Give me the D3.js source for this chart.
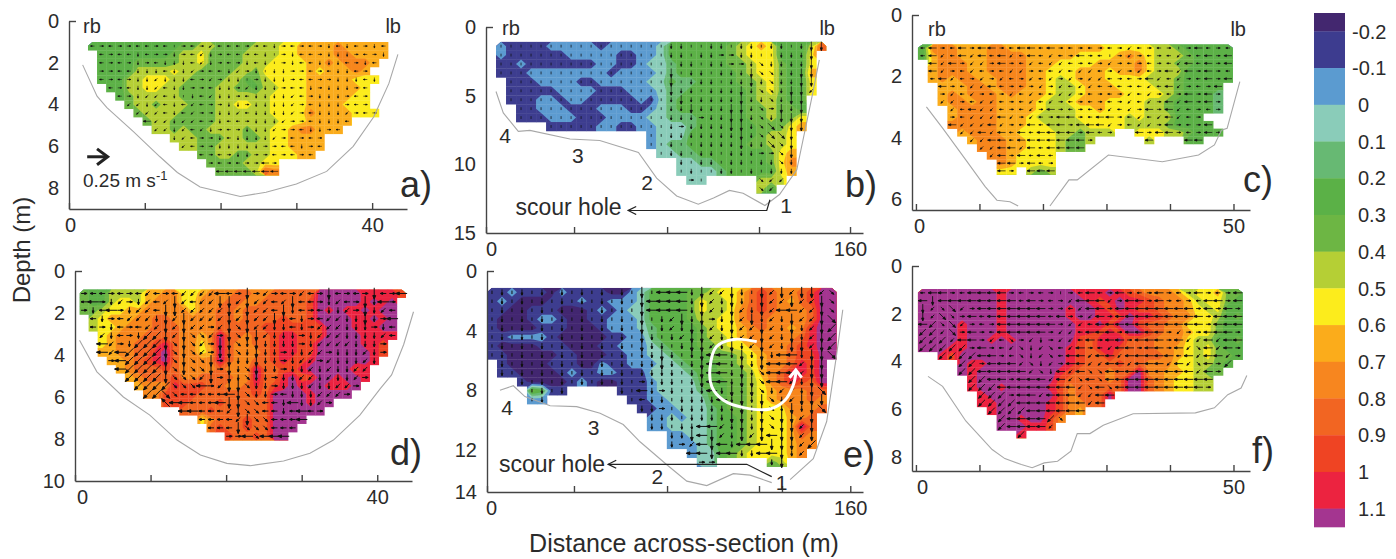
<!DOCTYPE html>
<html>
<head>
<meta charset="utf-8">
<script src="https://d3js.org/d3.v7.min.js"></script>
<style>
html, body { margin: 0; padding: 0; background: #fff; overflow: hidden; }
text { font-family: "Liberation Sans", Arial, sans-serif; fill: #2b2b2b; }
</style>
</head>
<body>
<svg id="chart" width="1396" height="559"></svg>
<script>
// legend classes, one character per class in the velocity rows below
var classKeys = "0123456789abcde";
var classColors = ["#43276f", "#3d3c8f", "#5b9bd0", "#8accb9", "#67b973", "#5bb147", "#6db644", "#b5cf35",
    "#fcec1c", "#fbac1b", "#f7861f", "#f26522", "#ef4423", "#ec2340", "#a43590"];
var legendValues = [-0.2, -0.1, 0, 0.1, 0.2, 0.3, 0.4, 0.5, 0.6, 0.7, 0.8, 0.9, 1, 1.1];
var legendLabels = ["-0.2", "-0.1", "0", "0.1", "0.2", "0.3", "0.4", "0.5", "0.6", "0.7", "0.8", "0.9", "1", "1.1"];

// velocity class per cell, "." is outside the measured area
var aVel = [
    "555555555566776666777889999a99999.",
    ".55555555677866667777889999aa9999.",
    ".5555666667786666777888899a9aaa9..",
    ".5555777787766667768888898999a9...",
    ".5557788877666677567888899999888..",
    "..55778877666677665778889999998...",
    "...5677777666677777788889999988...",
    "....677677766677887788889999888...",
    ".....6777766667777778888a9999888..",
    "......67766666777777788899999.....",
    ".......7767667777677889aa999......",
    ".........77766677667889999........",
    "..........7766777777889999........",
    "............6677667788899.........",
    ".............66667788.............",
    "..............66667ba............."
];
var bVel = [
    "21111222221222223555555678985557b",
    "21111112222211223555555678885558.",
    "11211111112211233455555667886558.",
    "11122222222122223455555567886559.",
    ".1112222112222233544555566786558.",
    ".1111122221112223445555556786558.",
    ".111221221111121345555555677655..",
    "..11222111222112345555555667665..",
    "..11122211122223344455555667668..",
    ".....11111221122333455555566689..",
    "...............233355555556778...",
    "...............234455555566778...",
    "................33445555555689...",
    "..................33445555568a...",
    "..................333345555589...",
    "...................33.....777....",
    "..........................75....."
];
var cVel = [
    "5aaa999aa99999999998888877655555",
    "59aa999aaaa9999988889a9877765555",
    ".9aaa99aaaa99988889999a877665555",
    ".9aaa99aaaa99888999899a877755555",
    ".9a9aa99aaa998789998888777655555",
    "..999aa9aaa99877899988887765555.",
    "..9a9aaa9a999877899998888765554.",
    "..9aa9aa99998778999888877655554.",
    "...9aaaa99998777889888877655554.",
    "...9aaaa999877778888878777555...",
    "...aaaaa9998877778888777765555..",
    "....9aaa998888776777..888776555.",
    ".....9aaa998887667.....7...55...",
    "......aaa99888766...............",
    ".......aa98888..................",
    "........a98888..................",
    "........88.767.................."
];
var dVel = [
    "655777799aa889aaabbaabbbbbeeeeeddddc",
    "65578879aaa88aaabbaabbbbbceeeeedede.",
    "6678899aaaaa8aabbabbbbbbbcededdedee.",
    ".78999aabbaaaaabbabbbbcbbceeeeddede.",
    ".7889aaabbbaaaabbbbbccccccceeedddee.",
    "..89aaabbbbaa9aebbabbcddccceeeedddd.",
    "..89aabbcdbaa8aebaabbcddcceeeeeddc..",
    "..99aabbdebaa89ebaaabcddcceeeeeedc..",
    "...99abcdebaaaaebaabbcdccdeeeeeed...",
    "....9abbbcbaaaabaaaebbccdeeeeecd....",
    ".....9abbbcaabbbbaaebbdecceedeed....",
    "......9aaadcccbbaabdbcdedeeddde.....",
    ".......aaccccbbbbbbcbeeeedeeee......",
    ".........cccbbbcbbbbbeeeedee........",
    "...........bbbcbbbbbbeeeeee.........",
    ".............8abbbcbbeeee...........",
    "..............bcbbcbbeee............",
    "................cbbcbee............."
];
var eVel = [
    "11211102111100235555667889bcbaabcee",
    "12100011121122235555687789bcba9bcee",
    "1100111000121233555568778abcbaaabee",
    "1000122100112223555567788abbaaaabee",
    "10000111000122234555567889abaa9adee",
    "11222210000011224555567789aaaaabdee",
    "100001110001122234555667889aaabcdee",
    "110000011000112233455566 6789aabccee".replace(" ", "").slice(0, 15) + "2334555666789aabccee",
    ".10000111002112" + "2233455566789aabdce.",
    ".11000012112211" + "1333345566679abddce.",
    "...100001210011" + "1233335556678abdcbe.",
    "....6511.....11" + "12333345566789aaabb.",
    "....22........1" + "12233335566789aaaba.",
    "..............." + "112233345667888aaab.",
    "..............." + ".223233455678889ab..",
    "..............." + ".223333455678889eb..",
    "..............." + "...2233455678889ba..",
    "..............." + "...2223455678889aa..",
    "..............." + ".....23356788889a...",
    ".....................33.....67....."
];
var fVel = [
    "eeeeeeeedeeeeeeedddedcbaaa9788966",
    "eeeeeeeedeeeeeeeedcdeddcbaa978865",
    "eeeeeeeedeeeeeedeedcedccbaa987855",
    "eeeeeeeedeeeeeedeeddceddcbaa88756",
    "eeeedeeedeeeeeeeddeceecbbaa888655",
    "eeeedeeedeeeeeeeddcdceecbaa988655",
    "eeeedeededeeeeeecbddebbbaaa877556",
    "eeeddeeeeeeeeeedcbddcbbbaa9878655",
    "..dceeeeeeeeeeedcbbdbbbbba9878665",
    "....eddeeeeeeeedcbbbcbbaaa887765.",
    "....edeeeeeeeedcbbbabbeaa998766..",
    ".....deeeeeeeecbbbbabeeba98877...",
    ".....deedeeeedcabbbbbeeba98877...",
    "......deeeeeeecabbbe.............",
    "......ddeeeeedcaabb..............",
    ".......deeeeedca9................",
    "........eedeeca..................",
    "........eeeddc...................",
    "..........d......................"
];

// velocity vector per cell: r e u w l z d s compass, upper case is a long one, i is a tiny one
var aArrows = [
    "lrlrrllrlirlrzlllrrldrlrlrdldlrdlr",
    "rlrlldlrrdrlzdrllrldirdllrdddrlrdl",
    "rlrlrdrldddlzdrlrdldirdlldddlrdllr",
    "lrrlldddlddzrlldzrdiddrrlrlddlrlLl",
    "rlrlrddzdddlrzrddirdddrllrrdddldLr",
    "lrlrlddzlddrrlddrzdddrlldrdddrlrll",
    "lrrlrdzzldidlzddrlddddzlrdddrlrlrr",
    "rlrrzzdzldlzlrrddrddddzrldddrlrlrl",
    "rlrlzzzzldlzrrddzlddddzrldddzrlrrl",
    "lrlrLzLzzdzzlrdllrdddzrrldddlrlrrr",
    "rlrlzLzzzdzlzdrlrdddzrrlddrlrlrlrl",
    "rlrlzzLzzdzlrrdlddddzrlrlrlrlrlrlr",
    "lrlrlzzlzdzlrrdddddrrlldrlrlrlrlrl",
    "lrlrlrlzzdzzlrlrddrrlrlrlrlrlrlrlr",
    "lrlrlrlrlrlrlrlrlrrLrlrlrlrlrlrlrl",
    "lrlrlrlrlrlrlLLLLLLLLrLlrlrlrlrlrl"
];
var bArrows = [
    "iiiiiiiiiiiiiiiiiddiiddiddiddidDD",
    "iiiiiiiiiiiiiiiiiddiddrrddiidddDs",
    "iiiiiiiiiiiiiiiiiiddiddrrdsddddDs",
    "iiiiiiiiiiiiiiiiiDiddidddDssddDDs",
    "iiiiiiiiiiiiiiiiiDidddiddDdsddDDs",
    "iiiiiiiiiiiiiiiiiDddidddDdssdDDzs",
    "iiiiiiiiiiiiiiiiidDdddddDddsdDDz.",
    "iiiiiiiiiiiiiiiiiddDdddDDdsrDdDz.",
    "iiiiiiiiiiiiiiiiidddrddDDdsdDDDz.",
    "iiiiiiiiiiiiiiiiidrddddDDdsSsDD..",
    "iiiiiiiiiiiiiiiiidddddddDdsSSDD..",
    "iiiiiiiiiiiiiiiiidiiddddDddSsDD..",
    "iiiiiiiiiiiiiiiiiddiddidddrrsDD..",
    "iiiiiiiiiiiiiiiiiididdiddiddsdD..",
    "iiiiiiiiiiiiiiiiiiidiiddididddr..",
    "iiiiiiiiiiiiiiiiiiiriiiiiiszzzz..",
    "iiiiiiiiiiiiiiiiiiiiiiiiiiszzz..."
];
var cArrows = [
    "lLrlLrLLrlLLlLrlrlrlrzlrlrirLlrl",
    "lLzlLzLlLzlLlzlrLrlirzrlrlzrlLrL",
    "rLzLrzzrLrlzlzzlrlrzrlrlrlzLlLrL",
    "lLzrlzlrlzzrllzlzzlrzrzlrLzLrLrl",
    "rlLzlrzrzlrzlzrzrzzlrlrLzlzrlLrL",
    "rlLrlzzLlrlrzrzlzzlrlrlzlLzrlrLr",
    "lLrzlzrlrzlzllzzrlrlrzlzrlrLrLrl",
    "lLzzrlzzlrlzlzrlrlrlrzlzrLzLrLrl",
    "lLLzlLzzlrlzrLrlrlrzlzrLrLzlrlrl",
    "LLLrlzzzLzrzlrLLrlLLrlzlzLzlrLrl",
    "LLLLzzzLzrlLlLLrLLLzrlzzrLrlrLrl",
    "LLlLzzLzLlLlLLLLrLlrLLLrLLrlrLrl",
    "rLLLLzzLLlLLLLLLLrlrlrlLLLLLLlrl",
    "rlLLLLzzLLzLlLLLLlrlrlrlrlrlrlrl",
    "rlrLLLzzLrLlLlrlrlrlrlrlrlrlrlrl",
    "rlrlrLzLLLrLlrLrlrlrlrlrlrlrlrlr",
    "rlrlrlrrLrLLLLLLrlrlrlrlrlrlrlrl"
];
var dArrows = [
    "rllrlrlzlrlzzzzLlrDrzrlrzlrDlrlrDlrL",
    "lLrdzrdzlzDzlzzDDzDzzlzDllrdzlrDdLrL",
    "rdlLrdzzlDDzzzzzDzDzzlDdlrlddzrDdzlr",
    "LldrlzzzdDzDzzzzDzDzzDdldrlzzddDdrLr",
    "LlrdlrlzzDzDzzrzDsDzzddldrzzzdddrdlL",
    "lLzdlrdZZDzDsszrDsDDzdddrdzzzddddzlr",
    "lrLzrdZZZDsDszrDDsdDddddrdzzzzdddrzL",
    "LrLzLZZZZDsDszrDDsdDddrddzzrdddzdrzL",
    "rLrrLZZZZDsDssDrDddDddrdzzrzdddzdzLr",
    "rrLlLZZZZDsDssDrDdsDddrddzdzddzzzLrr",
    "lrlrLZZZZDssszDrDdsddrddzzdzddzrLrlr",
    "lrlrlZZZZZsssLrzDDsddrdddzddzzrLrlrL",
    "lrlrlrZZZSslllllLDsddrldddzzzrLrrlrl",
    "rlrlrlrLWWLLlllLDDsslldLddzrrLrlrlrl",
    "rlrlrlrlrWWLLlllzDsslldlLlrrLrlrlrlr",
    "rlrlrlrlrlrLWllllzDsslllLLrlLrlrlrlr",
    "rlrlrlrlrlrlrrlllDssslllLWWrrlrlrlrl",
    "rlrlrlrlrlrlrlrlrrLsLLLLLrrlrlrlrlrl"
];
var eArrows = [
    "idididididididiDiLLLdDzzDdiDzDzDDzs",
    "idididididididiDLLLLdDzdDdiDzzDzzDs",
    "idididididididiDLLLLdDzdDzdDzLLzzDs",
    "idididididididiDidzDdDrdDzDdzdDzzDS",
    "idididididididiDidzdDDzdDzzDzdDdzDZ",
    "idididididididiDdidzDDzddzzDzdDdzDZ",
    "idididididididiDddidDDzdDdzDzdDDzDZ",
    "ididididididididdDdidDLLdDdDdLLdDDS",
    "ididididididididdDdidDLLdDdDLLLzDDS",
    "ididididididididdddidDLLdDdsLLLzDD.",
    "idididididididirdddidDLLdDDsLLzdDD.",
    "idididididididiLdrdiddLdDdDsdzzdDS.",
    "idididididididilddiddddLdDdDsdzDDD.",
    "ididididididididdriddddddDdDsdDdDS.",
    "idididididididirdddiddddDDdDsDDzDz.",
    "idididididididirddiddLLzdDdDsDDzD..",
    "ididididididiidLLdddDLDzdDzDLDDzD..",
    "ididididididiidLLrdrzLDLdLLLDDDzZ..",
    "ididididididiidirLLLLLDLLddLLDdz...",
    "ididididididiidirrLLLrrrrddddDdd..."
];
var fArrows = [
    "lLLrlLLLLrlrlrirlLlrLrlrLrlrLrlrL",
    "LDLLLLLLLLlLrlrzLLLzrLLrLrlrlLLrL",
    "DzsSzrLLLLLLLrrlzLLrLLLLLLLLrLrLr",
    "DzSsrLlLLLLLLlLrrzLrLLLLLLLLLrLLL",
    "LZsSzrlrLLLLLLrzzlLLLLLLLLLLLrLLL",
    "ZZzSrLrlLLLLLrzzlLLLrLLLLrzrrLLLr",
    "ZZZzLLrzlsrzdrzzlLrLLrLLLrLzzLzLL",
    "ZZZZZrLrlzsdzslzLrlzLLrLLrLzsLzLr",
    "rLZZZZLLrlsdzslLLzLLzLLLLLlLzLLzr",
    "rlrrZZrLLLzsdzrLLzzLLzLLLzLzsLrZr",
    "rlrrZZLLLLLzsdLzLssLLLLLLLLLzLrlr",
    "rlrrrZZLLrLLLzLzsLsLLLLLLLLLLLrlr",
    "rlrrrZZZLLLLLLLLzsLsLLLLLLLLLrlrl",
    "rlrrrrZZZrLLzLLLzzLLrlrlrlrlrrlrl",
    "rlrrrrZZZZLLLLLLLzLrlrlrlrlrrlrlr",
    "rlrrrrrZZZZLLLLLLrrlrlrlrlrlrrlrl",
    "rlrrrrrrZLLLLZsLLrlrlrlrlrlrrlrlr",
    "rlrrrrrrZLLLLzsZrlrlrlrlrlrlrlrlr",
    "rlrrrrrrrrZLrlrlrlrlrlrlrlrlrlrlr"
];

// river bed outline [distance, depth], null where it is broken
var aBed = [[1.8,2.1],[3.7,3.6],[5,4.15],[8.5,5.3],[12,6.5],[14.3,7.25],[17.3,7.95],[22.6,8.4],[26,8.2],[30,7.8],[34,7.2],[37.5,6],[40.2,4.6],[42.2,3],[43.4,1.6]];
var bBed = [[4.4,4.7],[7.6,6.26],[14.2,7.6],[19.3,7.53],[36.9,8.16],[50,8.26],[67,9.13],[75,11],[83.8,12.3],[93.3,12.9],[100,12.45],[107,11.9],[113,12.1],[122.6,13],[129,12.2],[136.6,10.4],[143,5.3],[146.5,2.4]];
var cBed = [[1.65,2.99],[4.23,3.69],[7.85,4.72],[10.9,5.59],[12.75,6.03],[14.8,6.08],[16.1,6.22],null,[21.1,6.22],[24.1,5.37],[25.4,5.37],[30.3,4.56],[38.8,4.78],[44.5,4.56],[47,4.23],[48.1,3.75],[49,3.69],[51,2.17]];
var dBed = [[0.6,3.3],[2.9,4.8],[6.4,6],[9.9,6.86],[13.5,8.05],[16.6,8.76],[20.1,9.16],[23.2,9.27],[27.6,9.05],[31.1,8.68],[34.2,8.05],[37.7,6.86],[40.4,5.6],[41.9,4.95],[43.5,3.5],[44.8,1.94]];
var eBed = [[5.7,8],[11.6,7.7],[16.7,8.43],[27.8,9.04],[39.5,9.1],[49.8,9.55],[60,10.3],[67.4,11.46],[79.2,13],[88,14.1],[96.8,14.4],[108.5,13.6],[115.9,13.7],[125.4,14.2],null,[133.5,14],[143.7,12.6],[149.6,10.1],[154,5.6],[156.7,2.6]];
var fBed = [[1.9,4.63],[4.2,5.05],[7.85,6.5],[12,7.7],[14,8.08],[16.6,8.33],[18.3,8.46],[20.2,8.26],[22.3,8.19],[24.4,7.77],[25.4,7.03],[27.4,7.03],[29.5,6.68],[34.2,6.2],[44,6.16],[47,5.95],[49.1,5.4],[51.2,5.12],[52.1,4.59]];

// scour hole leaders and the secondary cell path of panel e
var bScour = [[124.8,12.58],[123.4,13.36],[62.5,13.36]];
var eScour = [[125.4,13.8],[114.4,12.97],[53.4,12.97]];
var eLoop = [[118.8,4.74],[108.5,4.59],[101,5.08],[98.2,6.53],[99,7.76],[104,8.66],[113,9.17],[124.7,9.26],[131.3,8.66],[134.9,7.65],[136.1,6.76]];
var eLoopHead = [[133.2,7.16],[136,6.64],[138.6,7.16]];
var bNumbers = [["4",8.4,8.45],["3",40.4,9.87],["2",70.8,11.85],["1",131.9,13.55]];
var eNumbers = [["4",8.8,9.66],["3",46.9,11],["2",75,14.3],["1",129.8,14.7]];

var panels = [
    { name: "a", vel: aVel, arrows: aArrows, bed: aBed, x0: 2.5, dx: 1.2, y0: 1, dy: 0.4, arrowScale: 0.8, weight: 0.6, zero: 1,
      xDomain: [0, 44.6], xRange: [69, 407], yDomain: [0, 9], yRange: [21, 209],
      xTicks: [0, 10, 20, 30, 40], xLabels: [0, 40], yTicks: [0, 2, 4, 6, 8], yLabels: ["0", "2", "4", "6", "8"],
      letter: [400, 197], rb: [83, 33], lb: [401, 33] },
    { name: "b", vel: bVel, arrows: bArrows, bed: bBed, x0: 4.4, dx: 4.4, y0: 1.07, dy: 0.65, arrowScale: 0.95, weight: 0.75, zero: 5,
      xDomain: [0, 165.7], xRange: [486, 863], yDomain: [0, 15], yRange: [27, 233],
      xTicks: [0, 38.7, 79.6, 120, 160], xLabels: [0, 160], yTicks: [0, 5, 10, 15], yLabels: ["0", "5", "10", "15"],
      letter: [845, 197], rb: [502, 35], lb: [835, 35], scour: bScour, scourText: [59.6, 13.67], numbers: bNumbers },
    { name: "c", vel: cVel, arrows: cArrows, bed: cBed, x0: 0.3, dx: 1.55, y0: 0.95, dy: 0.25, arrowScale: 0.85, weight: 0.7, zero: 3,
      xDomain: [-0.62, 52.6], xRange: [912, 1250], yDomain: [0, 6.35], yRange: [15, 210],
      xTicks: [0, 10, 20, 30, 40, 50], xLabels: [0, 50], yTicks: [0, 2, 4, 6], yLabels: ["0", "2", "4", "6"],
      letter: [1243, 192], rb: [928, 36], lb: [1246, 36] },
    { name: "d", vel: dVel, arrows: dArrows, bed: dBed, x0: 0.6, dx: 1.2, y0: 0.87, dy: 0.4, arrowScale: 1.2, weight: 1, zero: 7,
      xDomain: [0, 44.6], xRange: [75, 412], yDomain: [0, 10], yRange: [271, 481],
      xTicks: [0, 10, 20, 30, 40], xLabels: [0, 40], yTicks: [0, 2, 4, 6, 8, 10], yLabels: ["0", "2", "4", "6", "8", "10"],
      letter: [390, 465] },
    { name: "e", vel: eVel, arrows: eArrows, bed: eBed, x0: 0, dx: 4.4, y0: 1.13, dy: 0.6, arrowScale: 1.15, weight: 1, zero: 4,
      xDomain: [0, 165.6], xRange: [487, 863], yDomain: [0, 14.83], yRange: [271, 492],
      xTicks: [0, 38.3, 79.3, 119.8, 129.9, 160], xLabels: [0, 160], yTicks: [0, 4, 8, 12, 14.83], yLabels: ["0", "4", "8", "12", "14"],
      letter: [843, 467], scour: eScour, scourText: [52, 13.47], numbers: eNumbers },
    { name: "f", vel: fVel, arrows: fArrows, bed: fBed, x0: 0.3, dx: 1.55, y0: 0.96, dy: 0.33, arrowScale: 0.95, weight: 0.9, zero: 6,
      xDomain: [-0.62, 52.6], xRange: [912, 1250], yDomain: [0, 8.6], yRange: [266, 471],
      xTicks: [0, 10, 20, 30, 40, 50], xLabels: [0, 50], yTicks: [0, 2, 4, 6, 8], yLabels: ["0", "2", "4", "6", "8"],
      letter: [1252, 463] }
];

var arrowAngle = { r: 0, s: 45, d: 90, z: 135, l: 180, w: 225, u: 270, e: 315 };
var svg = d3.select("#chart");
var defs = svg.append("defs");
defs.append("marker").attr("id", "open").attr("viewBox", "0 0 10 10").attr("refX", 9).attr("refY", 5)
    .attr("markerWidth", 10).attr("markerHeight", 10).attr("orient", "auto")
    .attr("markerUnits", "userSpaceOnUse")
    .append("path").attr("d", "M1,1L9,5L1,9").attr("fill", "none").attr("stroke", "#222").attr("stroke-width", 1.3);
defs.append("filter").attr("id", "soft").append("feGaussianBlur").attr("stdDeviation", 0.7);

function drawPanel(p) {
    var x = d3.scaleLinear().domain(p.xDomain).range(p.xRange);
    var y = d3.scaleLinear().domain(p.yDomain).range(p.yRange);
    var g = svg.append("g").attr("class", "panel-" + p.name);
    var m = p.vel.length, n = d3.max(p.vel, function (r) { return r.length; });

    // read the rows, dry cells take the nearest wet value so the contours stay flat at the edge
    var grid = [];
    p.vel.forEach(function (row) {
        for (var i = 0; i < n; i++) grid.push(i < row.length ? classKeys.indexOf(row[i]) : -1);
    });
    var wet = grid.map(function (v) { return v >= 0; });
    var filled = grid.slice(), missing = true;
    while (missing) {
        missing = false;
        var next = filled.slice();
        for (var j = 0; j < m; j++) for (var i = 0; i < n; i++) {
            if (filled[j * n + i] >= 0) continue;
            var around = [];
            if (j > 0) around.push(filled[(j - 1) * n + i]);
            if (j < m - 1) around.push(filled[(j + 1) * n + i]);
            if (i > 0) around.push(filled[j * n + i - 1]);
            if (i < n - 1) around.push(filled[j * n + i + 1]);
            around = around.filter(function (v) { return v >= 0; });
            if (around.length) next[j * n + i] = around[0]; else missing = true;
        }
        filled = next;
    }

    var clip = defs.append("clipPath").attr("id", "wet-" + p.name);
    for (var cj = 0; cj < m; cj++) for (var ci = 0; ci < n; ci++) {
        if (!wet[cj * n + ci]) continue;
        clip.append("rect")
            .attr("x", x(p.x0 + ci * p.dx)).attr("y", y(p.y0 + cj * p.dy))
            .attr("width", x(p.x0 + (ci + 1) * p.dx) - x(p.x0 + ci * p.dx) + 0.3)
            .attr("height", y(p.y0 + (cj + 1) * p.dy) - y(p.y0 + cj * p.dy) + 0.3);
    }

    var path = d3.geoPath(d3.geoTransform({
        point: function (gx, gy) { this.stream.point(x(p.x0 + gx * p.dx), y(p.y0 + gy * p.dy)); }
    }));
    var contours = d3.contours().size([n, m]).thresholds(d3.range(classColors.length).map(function (k) { return k - 0.5; }))(filled);
    g.append("g").attr("clip-path", "url(#wet-" + p.name + ")")
        .append("g").attr("filter", "url(#soft)")
        .selectAll("path").data(contours).join("path")
        .attr("d", path)
        .attr("fill", function (d, k) { return classColors[k]; });

    // velocity vectors, drawn from the cell centre
    var scale = p.arrowScale, d = d3.path();
    p.arrows.forEach(function (row, rj) {
        row.split("").forEach(function (ch, ri) {
            if (ri >= n || rj >= m || !wet[rj * n + ri]) return;
            var low = ch.toLowerCase(), long = ch !== low, tiny = low === "i";
            var cx = x(p.x0 + (ri + 0.5) * p.dx), cy = y(p.y0 + (rj + 0.5) * p.dy);
            var a = (tiny ? 90 : arrowAngle[low]) * Math.PI / 180;
            var len = (tiny ? 3 : long ? 9.5 : 5) * scale;
            var tx = cx + Math.cos(a) * len / 2, ty = cy + Math.sin(a) * len / 2;
            d.moveTo(cx - Math.cos(a) * len / 2, cy - Math.sin(a) * len / 2);
            d.lineTo(tx, ty);
            if (tiny) return;
            var hl = (long ? 3 : 2) * scale, hw = (long ? 1.2 : 0.8) * scale;
            d.moveTo(tx, ty);
            d.lineTo(tx - Math.cos(a) * hl - Math.sin(a) * hw, ty - Math.sin(a) * hl + Math.cos(a) * hw);
            d.lineTo(tx - Math.cos(a) * hl + Math.sin(a) * hw, ty - Math.sin(a) * hl - Math.cos(a) * hw);
            d.closePath();
        });
    });
    g.append("path").attr("d", d.toString()).attr("fill", "#111").attr("stroke", "#111").attr("stroke-width", p.weight);

    // bed outline
    g.append("path")
        .attr("d", d3.line().defined(function (q) { return q !== null; })
            .x(function (q) { return x(q[0]); }).y(function (q) { return y(q[1]); })(p.bed))
        .attr("fill", "none").attr("stroke", "#a8a8a8").attr("stroke-width", 1.1);

    // axes: ticks point into the plot, only the labelled ends carry text
    var xAxis = d3.axisBottom(x).tickValues(p.xTicks).tickSizeInner(-6).tickSizeOuter(0).tickPadding(9)
        .tickFormat(function (v) { return p.xLabels.indexOf(v) >= 0 ? v : ""; });
    var yAxis = d3.axisLeft(y).tickValues(p.yTicks).tickSizeInner(-7).tickSizeOuter(0).tickPadding(10)
        .tickFormat(function (v, k) { return p.yLabels[k]; });
    var gx = g.append("g").attr("transform", "translate(0," + p.yRange[1] + ")").call(xAxis);
    var gy = g.append("g").attr("transform", "translate(" + p.xRange[0] + ",0)").call(yAxis);
    gy.selectAll(".tick line").filter(function (v, k) { return k > 0; }).remove();
    [gx, gy].forEach(function (ax) {
        ax.selectAll(".domain, .tick line").attr("stroke", "#444").attr("stroke-width", 1.4);
        ax.selectAll("text").attr("font-size", 20).attr("font-family", null).style("fill", "#2b2b2b");
    });
    gx.selectAll(".tick text").filter(function (v) { return v === 0; }).attr("dx", p.zero || 0);

    g.append("text").attr("x", p.letter[0]).attr("y", p.letter[1]).attr("font-size", 36).text(p.name + ")");
    if (p.rb) {
        g.append("text").attr("x", p.rb[0]).attr("y", p.rb[1]).attr("font-size", 20).text("rb");
        g.append("text").attr("x", p.lb[0]).attr("y", p.lb[1]).attr("font-size", 20).attr("text-anchor", "end").text("lb");
    }
    if (p.scour) {
        g.append("path")
            .attr("d", d3.line().x(function (q) { return x(q[0]); }).y(function (q) { return y(q[1]); })(p.scour))
            .attr("fill", "none").attr("stroke", "#222").attr("stroke-width", 1.2).attr("marker-end", "url(#open)");
        g.append("text").attr("x", x(p.scourText[0])).attr("y", y(p.scourText[1]))
            .attr("font-size", 23).attr("text-anchor", "end").text("scour hole");
        g.selectAll("text.num").data(p.numbers).join("text").attr("class", "num")
            .attr("x", function (q) { return x(q[1]); }).attr("y", function (q) { return y(q[2]); })
            .attr("font-size", 21).attr("text-anchor", "middle").text(function (q) { return q[0]; });
    }
    p.x = x; p.y = y; p.g = g;
}
panels.forEach(drawPanel);

// white loop on panel e
var pe = panels[4];
pe.g.append("path").attr("d", d3.line().curve(d3.curveCatmullRom)
        .x(function (q) { return pe.x(q[0]); }).y(function (q) { return pe.y(q[1]); })(eLoop))
    .attr("fill", "none").attr("stroke", "#fff").attr("stroke-width", 3);
pe.g.append("path").attr("d", d3.line().x(function (q) { return pe.x(q[0]); }).y(function (q) { return pe.y(q[1]); })(eLoopHead))
    .attr("fill", "none").attr("stroke", "#fff").attr("stroke-width", 3);

// reference vector on panel a
var pa = panels[0];
pa.g.append("path").attr("d", "M" + pa.x(2.4) + "," + pa.y(6.5) + "H" + pa.x(4.9))
    .attr("stroke", "#222").attr("stroke-width", 3).attr("fill", "none");
pa.g.append("path").attr("d", "M" + pa.x(3.7) + "," + pa.y(6.12) + "L" + pa.x(5.1) + "," + pa.y(6.5) + "L" + pa.x(3.7) + "," + pa.y(6.88))
    .attr("stroke", "#222").attr("stroke-width", 3).attr("fill", "none");
var scaleText = pa.g.append("text").attr("x", 83).attr("y", 187).attr("font-size", 19);
scaleText.append("tspan").text("0.25 m s");
scaleText.append("tspan").attr("dy", -7).attr("font-size", 13).text("-1");

// legend
var legendY = d3.scaleLinear().domain([-0.25, 1.15]).range([13, 527]);
var edges = [-0.25].concat(legendValues, [1.15]);
svg.append("g").selectAll("rect").data(classColors).join("rect")
    .attr("x", 1314).attr("width", 31)
    .attr("y", function (c, k) { return legendY(edges[k]); })
    .attr("height", function (c, k) { return legendY(edges[k + 1]) - legendY(edges[k]) + 0.3; })
    .attr("fill", function (c) { return c; });
svg.append("g").selectAll("text").data(legendValues).join("text")
    .attr("x", function (v) { return v < 0 ? 1352 : 1358; }).attr("y", function (v) { return legendY(v); })
    .attr("dy", "0.36em").attr("font-size", 20)
    .text(function (v, k) { return legendLabels[k]; });

// shared axis titles
svg.append("text").attr("transform", "translate(30,250) rotate(-90)").attr("text-anchor", "middle")
    .attr("font-size", 24).text("Depth (m)");
svg.append("text").attr("x", 684).attr("y", 552).attr("text-anchor", "middle")
    .attr("font-size", 25).text("Distance across-section (m)");
</script>
</body>
</html>
